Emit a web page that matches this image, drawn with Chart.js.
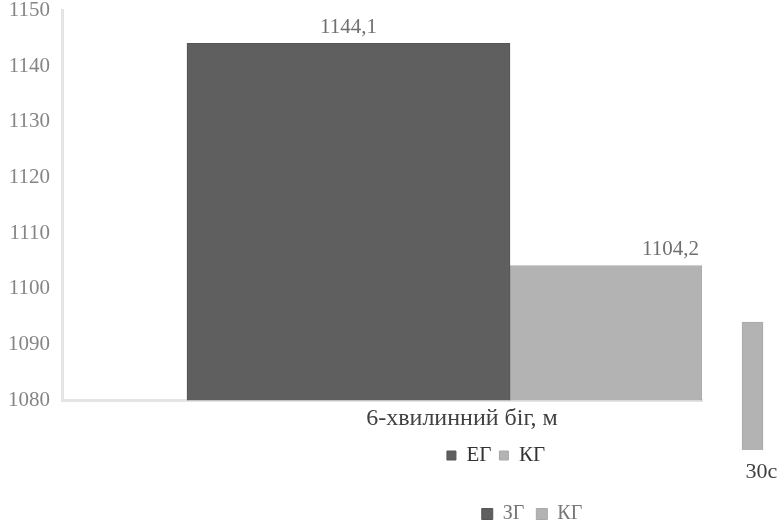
<!DOCTYPE html>
<html>
<head>
<meta charset="utf-8">
<script src="https://cdn.jsdelivr.net/npm/chart.js@4"></script>
<style>
  html, body { margin: 0; padding: 0; background: #fff; overflow: hidden; width: 783px; height: 524px; }
  #wrap30 { position: absolute; left: 281px; top: 0; }
  #wrapMain { position: absolute; left: 0; top: 0; }
</style>
</head>
<body>
<div id="wrap30"><canvas id="chart30" width="502" height="534"></canvas></div>
<div id="wrapMain"><canvas id="runChart" width="984" height="476"></canvas></div>
<script>
// дані основної діаграми
const CATEGORIES = ['6-хвилинний біг, м'];
const SERIES_NAMES = ['ЕГ', 'КГ'];
const EG_VALUES = [1144.1];
const KG_VALUES = [1104.2];
const Y_MIN = 1080;
const Y_MAX = 1150;
const Y_STEP = 10;

// фрагмент другої діаграми (видно лише край)
const CATEGORIES_30 = ['30с'];
const SERIES_NAMES_30 = ['ЗГ', 'КГ'];
const ZG_30 = [null];
const KG_30 = [28.4];

const SERIF = 'Liberation Serif, Times New Roman, serif';

// підписи значень над стовпцями
const barValues = {
    id: 'barValues',
    afterDatasetsDraw(chart) {
        const ctx = chart.ctx;
        ctx.save();
        ctx.font = '21px ' + SERIF;
        ctx.fillStyle = '#6f6f6f';
        ctx.textBaseline = 'alphabetic';
        chart.data.datasets.forEach((ds, i) => {
            const meta = chart.getDatasetMeta(i);
            meta.data.forEach((bar, j) => {
                const v = ds.data[j].y;
                const text = v.toFixed(1).replace('.', ',');
                if (ds.valueAlign === 'right') {
                    ctx.textAlign = 'right';
                    ctx.fillText(text, bar.x + bar.width / 2 - 3, bar.y - 10);
                } else {
                    ctx.textAlign = 'center';
                    ctx.fillText(text, bar.x, bar.y - 10);
                }
            });
        });
        ctx.restore();
    }
};

function toPoints(values) {
    return CATEGORIES.map((c, i) => ({ x: i, y: values[i] }));
}

// порожня вісь, що лише займає місце
function spacerAxis(position, size) {
    return {
        position: position,
        grid: { display: false, drawTicks: false },
        border: { display: false },
        ticks: { display: false },
        afterFit: function(scale) { scale.width = size; }
    };
}

function initMainChart() {
    const ctx = document.getElementById('runChart');
    return new Chart(ctx, {
        type: 'bar',
        data: {
            datasets: [{
                label: SERIES_NAMES[0],
                data: toPoints(EG_VALUES),
                backgroundColor: '#5f5f5f',
                borderColor: '#555555',
                borderWidth: 1,
                barThickness: 323,
                valueAlign: 'center'
            }, {
                label: SERIES_NAMES[1],
                data: toPoints(KG_VALUES),
                backgroundColor: '#b3b3b3',
                borderColor: '#a8a8a8',
                borderWidth: 1,
                barThickness: 192,
                valueAlign: 'right'
            }]
        },
        options: {
            responsive: false,
            animation: false,
            layout: { padding: { left: 8, right: 0, top: 0, bottom: 0 } },
            plugins: {
                legend: {
                    position: 'bottom',
                    labels: {
                        boxWidth: 9,
                        boxHeight: 9,
                        padding: 8,
                        color: '#333333',
                        font: { family: SERIF, size: 21 }
                    }
                },
                tooltip: { enabled: false }
            },
            scales: {
                x: {
                    type: 'linear',
                    min: -0.7,
                    max: 0.3,
                    offset: false,
                    grid: { display: false, drawTicks: false },
                    border: { color: '#e4e4e4', width: 3 },
                    afterBuildTicks: function(scale) {
                        scale.ticks = CATEGORIES.map((c, i) => ({ value: i }));
                    },
                    ticks: {
                        callback: function(value) { return CATEGORIES[value]; },
                        labelOffset: -48,
                        padding: 4,
                        autoSkip: false,
                        maxRotation: 0,
                        color: '#404040',
                        font: { family: SERIF, size: 24 }
                    }
                },
                y: {
                    min: Y_MIN,
                    max: Y_MAX,
                    grid: {
                        display: true,
                        drawOnChartArea: false,
                        drawTicks: true,
                        tickLength: 12,
                        tickColor: 'rgba(0,0,0,0)'
                    },
                    border: { color: '#e4e4e4', width: 3 },
                    ticks: {
                        stepSize: Y_STEP,
                        padding: 0,
                        color: '#858585',
                        font: { family: SERIF, size: 21, lineHeight: 1 },
                        callback: function(value) { return String(value); }
                    }
                },
                yRight: spacerAxis('right', 282)
            }
        },
        plugins: [barValues]
    });
}

function initSecondChart() {
    const ctx = document.getElementById('chart30');
    return new Chart(ctx, {
        type: 'bar',
        data: {
            labels: CATEGORIES_30,
            datasets: [{
                label: SERIES_NAMES_30[0],
                data: ZG_30,
                backgroundColor: '#5f5f5f',
                borderColor: '#555555',
                borderWidth: 1,
                skipNull: true
            }, {
                label: SERIES_NAMES_30[1],
                data: KG_30,
                backgroundColor: '#b3b3b3',
                borderColor: '#a8a8a8',
                borderWidth: 1,
                barThickness: 21,
                skipNull: true
            }]
        },
        options: {
            responsive: false,
            animation: false,
            plugins: {
                legend: {
                    position: 'bottom',
                    labels: {
                        boxWidth: 11,
                        boxHeight: 11,
                        padding: 12,
                        color: '#777777',
                        font: { family: SERIF, size: 20 }
                    }
                },
                tooltip: { enabled: false }
            },
            scales: {
                x: {
                    grid: { display: false, drawTicks: false },
                    border: { display: false },
                    afterFit: function(scale) { scale.height = 42; },
                    ticks: {
                        labelOffset: 9,
                        padding: 9,
                        maxRotation: 0,
                        color: '#404040',
                        font: { family: SERIF, size: 22 }
                    }
                },
                y: Object.assign(spacerAxis('left', 441), { min: 0, max: 100 })
            }
        }
    });
}

document.addEventListener('DOMContentLoaded', function() {
    initSecondChart();
    initMainChart();
});
</script>
</body>
</html>
